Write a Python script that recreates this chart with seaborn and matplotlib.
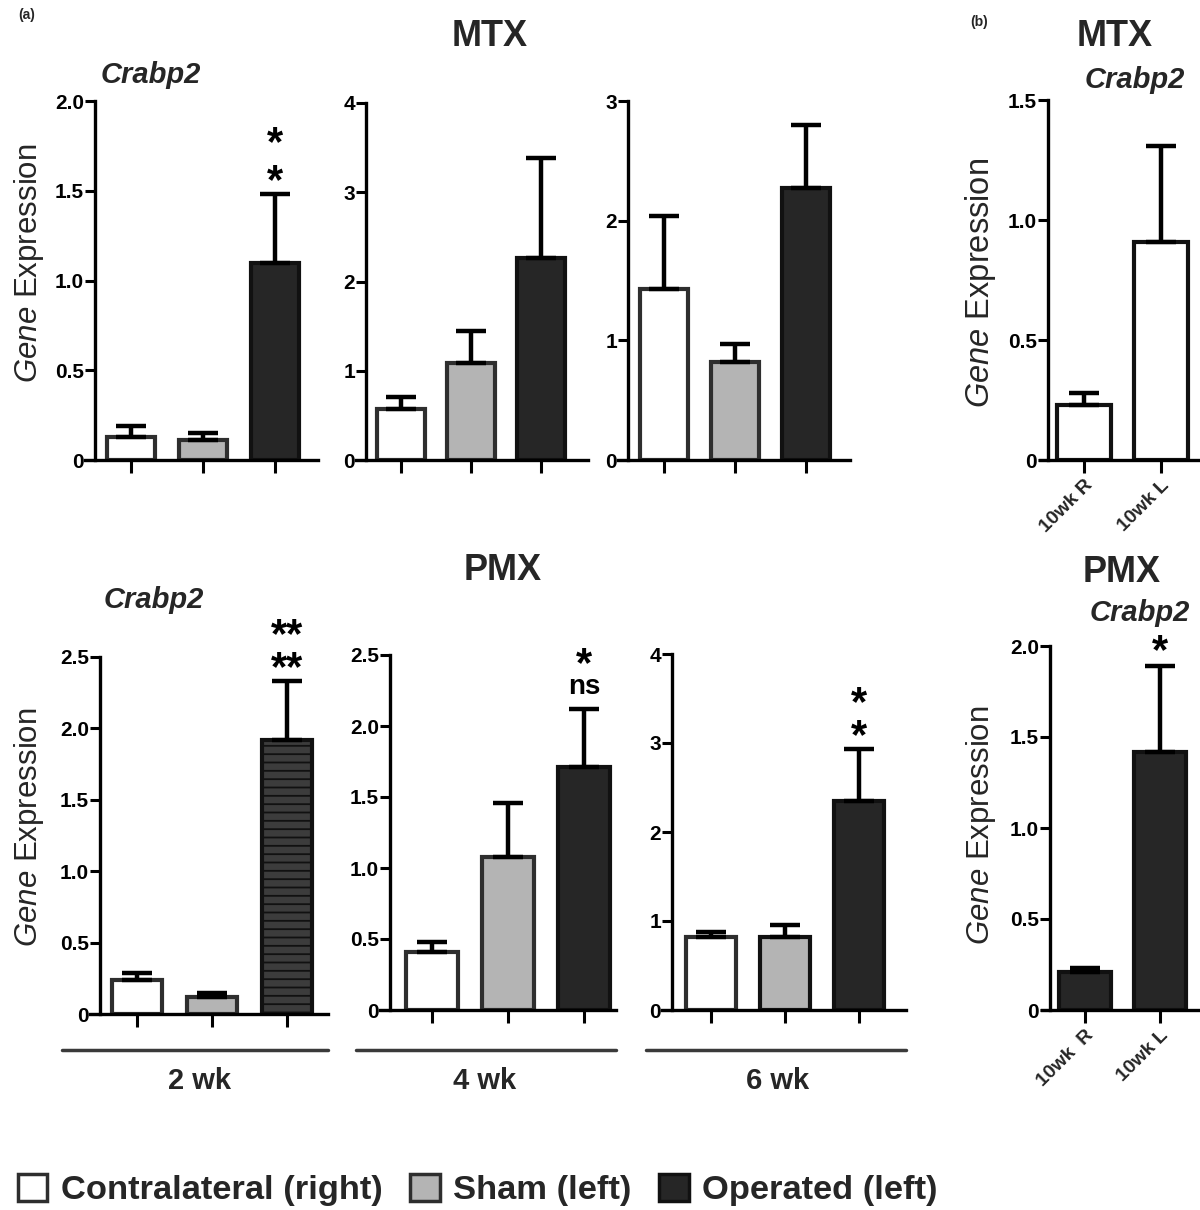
import numpy as np
import pandas as pd
import matplotlib
matplotlib.use("Agg")
import matplotlib.pyplot as plt
from matplotlib.patches import Patch
from matplotlib.lines import Line2D
import seaborn as sns

# ---- data (Crabp2 gene expression, mean and upper SEM) ----
groups = ["Contralateral (right)", "Sham (left)", "Operated (left)"]
wk10_labels = ["10wk R", "10wk L"]
wk10_labels_pmx = ["10wk  R", "10wk L"]
time_labels = ["2 wk", "4 wk", "6 wk"]

mtx_2wk = [0.13, 0.11, 1.10]
mtx_2wk_err = [0.06, 0.04, 0.38]
mtx_4wk = [0.57, 1.09, 2.26]
mtx_4wk_err = [0.14, 0.36, 1.12]
mtx_6wk = [1.43, 0.82, 2.27]
mtx_6wk_err = [0.61, 0.15, 0.53]

pmx_2wk = [0.24, 0.12, 1.92]
pmx_2wk_err = [0.05, 0.03, 0.41]
pmx_4wk = [0.41, 1.08, 1.71]
pmx_4wk_err = [0.07, 0.375, 0.41]
pmx_6wk = [0.825, 0.825, 2.35]
pmx_6wk_err = [0.055, 0.135, 0.58]

mtx_10wk = [0.23, 0.91]
mtx_10wk_err = [0.05, 0.40]
pmx_10wk = [0.21, 1.42]
pmx_10wk_err = [0.02, 0.47]

# significance marks, listed bottom line first
mtx_2wk_sig = ["*", "*"]
pmx_2wk_sig = ["**", "**"]
pmx_4wk_sig = ["ns", "*"]
pmx_6wk_sig = ["*", "*"]
pmx_10wk_sig = ["*"]

# y ticks
yt_15 = [0, 0.5, 1.0, 1.5]
yt_15_lab = ["0", "0.5", "1.0", "1.5"]
yt_20 = [0, 0.5, 1.0, 1.5, 2.0]
yt_20_lab = ["0", "0.5", "1.0", "1.5", "2.0"]
yt_25 = [0, 0.5, 1.0, 1.5, 2.0, 2.5]
yt_25_lab = ["0", "0.5", "1.0", "1.5", "2.0", "2.5"]
yt_3 = [0, 1, 2, 3]
yt_4 = [0, 1, 2, 3, 4]

# ---- styling ----
sns.set_theme(style="ticks")
plt.rcParams["font.family"] = ["Liberation Sans", "DejaVu Sans"]
plt.rcParams["mathtext.fontset"] = "custom"
plt.rcParams["mathtext.it"] = "Liberation Sans:italic"
plt.rcParams["mathtext.rm"] = "Liberation Sans"
plt.rcParams["hatch.linewidth"] = 1.3

WHITE, GREY, DARK = "#ffffff", "#b4b4b4", "#262626"
EDGE_LIGHT, EDGE_DARK = "#2e2e2e", "#111111"
TXT = "#262626"

W, H = 1200, 1210
fig = plt.figure(figsize=(W / 100, H / 100), dpi=100)


def fx(x):
    return x / W


def fy(y):
    return 1 - y / H


def add_sig(ax, x, y, text, offset, size, spacing=1.0):
    ax.annotate(text, xy=(x, y), xytext=(0, offset), textcoords="offset points",
                ha="center", va="baseline", fontsize=size, fontweight="bold",
                color="black", linespacing=spacing, annotation_clip=False)


def draw_panel(box, cats, values, errs, colors, edges, ticks, ticklabels,
               width, xlabels=False, hatch=None):
    c0, s, spine, left, right, y0, ytop = box
    ax = fig.add_axes([fx(left), fy(y0), (right - left) / W, (y0 - ytop) / H])
    ax.set_facecolor("none")
    df = pd.DataFrame({"cat": cats, "val": values})
    sns.barplot(data=df, x="cat", y="val", hue="cat", palette=colors,
                legend=False, errorbar=None, width=width, linewidth=3,
                ax=ax, zorder=2)
    for patch, ec in zip(ax.patches, edges):
        patch.set_edgecolor(ec)
        patch.set_linewidth(3)
    if hatch is not None:
        idx, pattern, face = hatch
        ax.patches[idx].set_hatch(pattern)
        ax.patches[idx].set_facecolor(face)
    n = len(values)
    ax.errorbar(range(n), values, yerr=[np.zeros(n), errs], fmt="none",
                ecolor="black", elinewidth=3.2, capsize=11, capthick=3.2,
                zorder=3)
    ymax = ticks[-1]
    ax.set_ylim(0, ymax)
    ax.set_xlim((left - c0) / s, (right - c0) / s)
    ax.spines["left"].set_position(("data", (spine - c0) / s))
    ax.spines["left"].set_bounds(0, ymax)
    for side in ["top", "right"]:
        ax.spines[side].set_visible(False)
    for side in ["left", "bottom"]:
        ax.spines[side].set_linewidth(2.4)
        ax.spines[side].set_color("black")
    ax.set_yticks(ticks)
    ax.set_yticklabels(ticklabels, fontsize=15, fontweight="bold", color="black")
    ax.tick_params(axis="y", length=7, width=2.2, pad=1, color="black")
    ax.tick_params(axis="x", length=9, width=2.2, pad=3, color="black")
    ax.set_xticks(range(n))
    if xlabels:
        ax.set_xticklabels(cats, rotation=45, ha="right", rotation_mode="anchor",
                           fontsize=14, fontweight="bold", color=TXT)
    else:
        ax.set_xticklabels([])
    ax.set_xlabel("")
    ax.set_ylabel("")
    return ax


grp_cols = [WHITE, GREY, DARK]
grp_edges = [EDGE_LIGHT, EDGE_LIGHT, EDGE_DARK]

# panel boxes in pixels: centre of first bar, bar spacing, y-spine x,
# x-axis left end, right end, y of zero, y of top tick
ax = draw_panel((131, 72, 95, 85, 318, 460, 101), groups, mtx_2wk, mtx_2wk_err,
                grp_cols, grp_edges, yt_20, yt_20_lab, 0.66)
add_sig(ax, 2, mtx_2wk[2] + mtx_2wk_err[2], "\n".join(mtx_2wk_sig[::-1]), 0.8, 30, 0.93)
draw_panel((401, 70, 366, 356, 588, 460, 103), groups, mtx_4wk, mtx_4wk_err,
           grp_cols, grp_edges, yt_4, [str(t) for t in yt_4], 0.68)
draw_panel((664, 71, 628, 618, 850, 460, 101), groups, mtx_6wk, mtx_6wk_err,
           grp_cols, grp_edges, yt_3, [str(t) for t in yt_3], 0.68)
draw_panel((1084, 77, 1048, 1040, 1200, 460, 100), wk10_labels, mtx_10wk,
           mtx_10wk_err, [WHITE, WHITE], [EDGE_DARK, EDGE_DARK], yt_15,
           yt_15_lab, 0.70, xlabels=True)

ax = draw_panel((137, 75, 100, 90, 328, 1014, 657), groups, pmx_2wk, pmx_2wk_err,
                grp_cols, grp_edges, yt_25, yt_25_lab, 0.66,
                hatch=(2, "--", "#3c3c3c"))
add_sig(ax, 2, pmx_2wk[2] + pmx_2wk_err[2], "\n".join(pmx_2wk_sig[::-1]), 0.8, 30, 0.78)
ax = draw_panel((432, 76, 390, 380, 616, 1010, 655), groups, pmx_4wk, pmx_4wk_err,
                grp_cols, grp_edges, yt_25, yt_25_lab, 0.68)
add_sig(ax, 2, pmx_4wk[2] + pmx_4wk_err[2], pmx_4wk_sig[0], 10.8, 20)
add_sig(ax, 2, pmx_4wk[2] + pmx_4wk_err[2], pmx_4wk_sig[1], 23.5, 30)
ax = draw_panel((711, 74, 672, 662, 906, 1010, 654), groups, pmx_6wk, pmx_6wk_err,
                grp_cols, [EDGE_LIGHT, EDGE_DARK, EDGE_DARK], yt_4,
                [str(t) for t in yt_4], 0.68)
add_sig(ax, 2, pmx_6wk[2] + pmx_6wk_err[2], "\n".join(pmx_6wk_sig[::-1]), 0.8, 30, 0.78)
ax = draw_panel((1085, 75, 1050, 1042, 1200, 1010, 646), wk10_labels_pmx, pmx_10wk,
                pmx_10wk_err, [DARK, DARK], [EDGE_DARK, EDGE_DARK], yt_20,
                yt_20_lab, 0.70, xlabels=True)
add_sig(ax, 1, pmx_10wk[1] + pmx_10wk_err[1], pmx_10wk_sig[0], 2.1, 30)

# ---- titles and labels ----
fig.text(fx(18), fy(15), "(a)", fontsize=10, fontweight="bold", va="center", color=TXT)
fig.text(fx(970), fy(22), "(b)", fontsize=10, fontweight="bold", va="center", color=TXT)
for x, y, t in [(490, 37, "MTX"), (503, 570, "PMX"), (1115, 37, "MTX"), (1122, 573, "PMX")]:
    fig.text(fx(x), fy(y), t, fontsize=26, fontweight="bold", ha="center",
             va="center", color=TXT)
for x, y in [(151, 75), (154, 600), (1135, 80), (1140, 613)]:
    fig.text(fx(x), fy(y), "Crabp2", fontsize=21, fontweight="bold",
             style="italic", ha="center", va="center", color=TXT)
for x, y, fs in [(29, 263, 22.5), (29, 827, 22.5), (980, 283, 23.5), (981, 825, 22.5)]:
    fig.text(fx(x), fy(y), r"$\it{Gene}$ Expression", fontsize=fs,
             rotation=90, ha="center", va="center", color=TXT)

# time-point brackets under the PMX row
for (x1, x2), xt, t in zip([(62, 328), (356, 616), (646, 906)], [200, 485, 778], time_labels):
    fig.add_artist(Line2D([fx(x1), fx(x2)], [fy(1050), fy(1050)], color="#3a3a3a", lw=2.5))
    fig.text(fx(xt), fy(1081), t, fontsize=21, fontweight="bold", ha="center",
             va="center", color=TXT)

# legend
handles = [Patch(facecolor=c, edgecolor=e, linewidth=2.5)
           for c, e in zip(grp_cols, grp_edges)]
fig.legend(handles, groups, loc="center left", bbox_to_anchor=(fx(18), fy(1190)),
           ncol=3, frameon=False, borderpad=0, borderaxespad=0,
           handlelength=0.85, handleheight=0.85, handletextpad=0.4,
           columnspacing=0.8, prop={"size": 24.8, "weight": "bold"},
           labelcolor=TXT)

fig.savefig("out.png", dpi=100)
